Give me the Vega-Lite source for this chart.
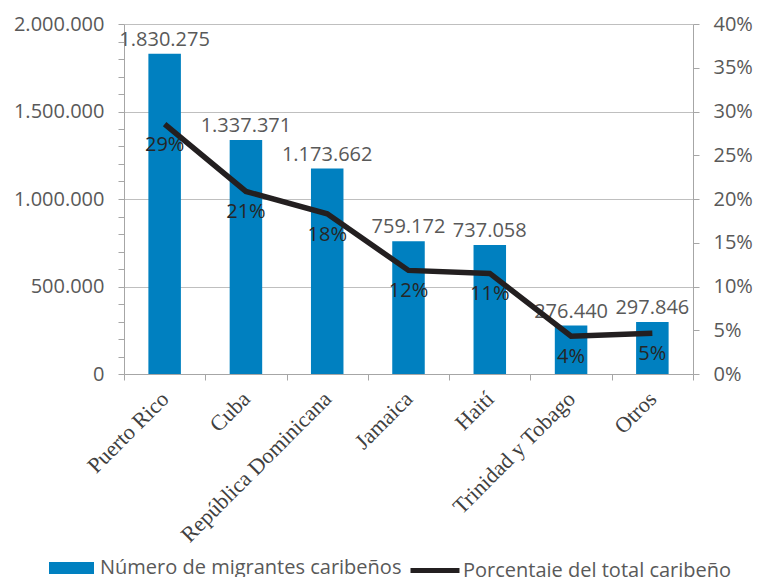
{
  "$schema": "https://vega.github.io/schema/vega-lite/v6.json",
  "autosize": "none",
  "width": 569,
  "height": 350,
  "padding": {"left": 124, "top": 24, "right": 64, "bottom": 203},
  "background": "white",
  "config": {
    "locale": {"number": {"decimal": ",", "thousands": ".", "grouping": [3], "currency": ["$", ""]}},
    "view": {"stroke": null},
    "legend": {"padding": 0}
  },
  "data": {
    "values": [
      {"pais": "Puerto Rico", "migrantes": 1830275, "pct": 0.28545},
      {"pais": "Cuba", "migrantes": 1337371, "pct": 0.20858},
      {"pais": "República Dominicana", "migrantes": 1173662, "pct": 0.18305},
      {"pais": "Jamaica", "migrantes": 759172, "pct": 0.11840},
      {"pais": "Haití", "migrantes": 737058, "pct": 0.11495},
      {"pais": "Trinidad y Tobago", "migrantes": 276440, "pct": 0.04311},
      {"pais": "Otros", "migrantes": 297846, "pct": 0.04645}
    ]
  },
  "encoding": {
    "x": {
      "field": "pais",
      "type": "nominal",
      "sort": null,
      "scale": {"paddingInner": 0, "paddingOuter": 0},
      "axis": {
        "title": null,
        "labelAngle": -45,
        "labelAlign": "right",
        "labelBaseline": "middle",
        "labelFont": "Liberation Serif",
        "labelFontSize": 22,
        "labelColor": "#404040",
        "labelPadding": 15,
        "labelLimit": 0,
        "tickBand": "extent",
        "tickSize": 6,
        "tickColor": "#A6A6A6",
        "domainColor": "#A6A6A6",
        "grid": false,
        "labelOverlap": false
      }
    }
  },
  "layer": [
    {
      "encoding": {
        "y": {
          "field": "migrantes",
          "type": "quantitative",
          "scale": {"domain": [0, 2000000], "nice": false},
          "axis": {
            "title": null,
            "values": [0, 100000, 200000, 300000, 400000, 500000, 600000, 700000, 800000, 900000, 1000000, 1100000, 1200000, 1300000, 1400000, 1500000, 1600000, 1700000, 1800000, 1900000, 2000000],
            "labelExpr": "datum.value % 500000 === 0 ? format(datum.value, ',') : ''",
            "labelOverlap": false,
            "labelFont": "Open Sans",
            "labelFontSize": 20,
            "labelColor": "#595959",
            "labelPadding": 14,
            "tickSize": 6,
            "tickColor": "#A6A6A6",
            "domainColor": "#A6A6A6",
            "grid": true,
            "gridColor": "#BFBFBF",
            "gridOpacity": {"condition": {"test": "datum.value % 500000 === 0", "value": 1}, "value": 0}
          }
        }
      },
      "layer": [
        {
          "mark": {"type": "bar", "width": {"band": 0.4}},
          "encoding": {
            "fill": {
              "datum": "Número de migrantes caribeños",
              "scale": {"range": ["#0080C0"]},
              "legend": {
                "title": null,
                "orient": "none",
                "legendX": -62.5,
                "legendY": 534,
                "symbolType": "M-3.75,-1H3.75V1H-3.75Z",
                "symbolSize": 144,
                "symbolStrokeWidth": 0,
                "labelOffset": 18.5,
                "labelLimit": 0,
                "labelFont": "Open Sans",
                "labelFontSize": 20,
                "labelColor": "#595959"
              }
            }
          }
        },
        {
          "mark": {"type": "text", "dy": -8, "baseline": "alphabetic", "font": "Open Sans", "fontSize": 20, "color": "#595959"},
          "encoding": {
            "text": {"field": "migrantes", "type": "quantitative", "format": ","}
          }
        }
      ]
    },
    {
      "encoding": {
        "y": {
          "field": "pct",
          "type": "quantitative",
          "scale": {"domain": [0, 0.4], "nice": false},
          "axis": {
            "title": null,
            "orient": "right",
            "values": [0, 0.05, 0.1, 0.15, 0.2, 0.25, 0.3, 0.35, 0.4],
            "format": ".0%",
            "labelFont": "Open Sans",
            "labelFontSize": 20,
            "labelColor": "#595959",
            "labelPadding": 14,
            "tickSize": 6,
            "tickColor": "#A6A6A6",
            "domainColor": "#A6A6A6",
            "grid": false
          }
        }
      },
      "layer": [
        {
          "mark": {"type": "line", "strokeWidth": 5.5, "color": "#231F20"},
          "encoding": {
            "stroke": {
              "datum": "Porcentaje del total caribeño",
              "scale": {"range": ["#231F20"]},
              "legend": {
                "title": null,
                "orient": "none",
                "legendX": 284,
                "legendY": 519.5,
                "symbolType": "stroke",
                "symbolSize": 2400,
                "symbolStrokeWidth": 5,
                "labelOffset": 1,
                "labelLimit": 0,
                "labelFont": "Open Sans",
                "labelFontSize": 20,
                "labelColor": "#595959"
              }
            }
          }
        },
        {
          "mark": {"type": "text", "dy": 27, "baseline": "alphabetic", "font": "Open Sans", "fontSize": 20, "color": "#262626"},
          "encoding": {
            "text": {"field": "pct", "type": "quantitative", "format": ".0%"}
          }
        }
      ]
    }
  ],
  "resolve": {"scale": {"y": "independent", "fill": "independent", "stroke": "independent"}}
}
